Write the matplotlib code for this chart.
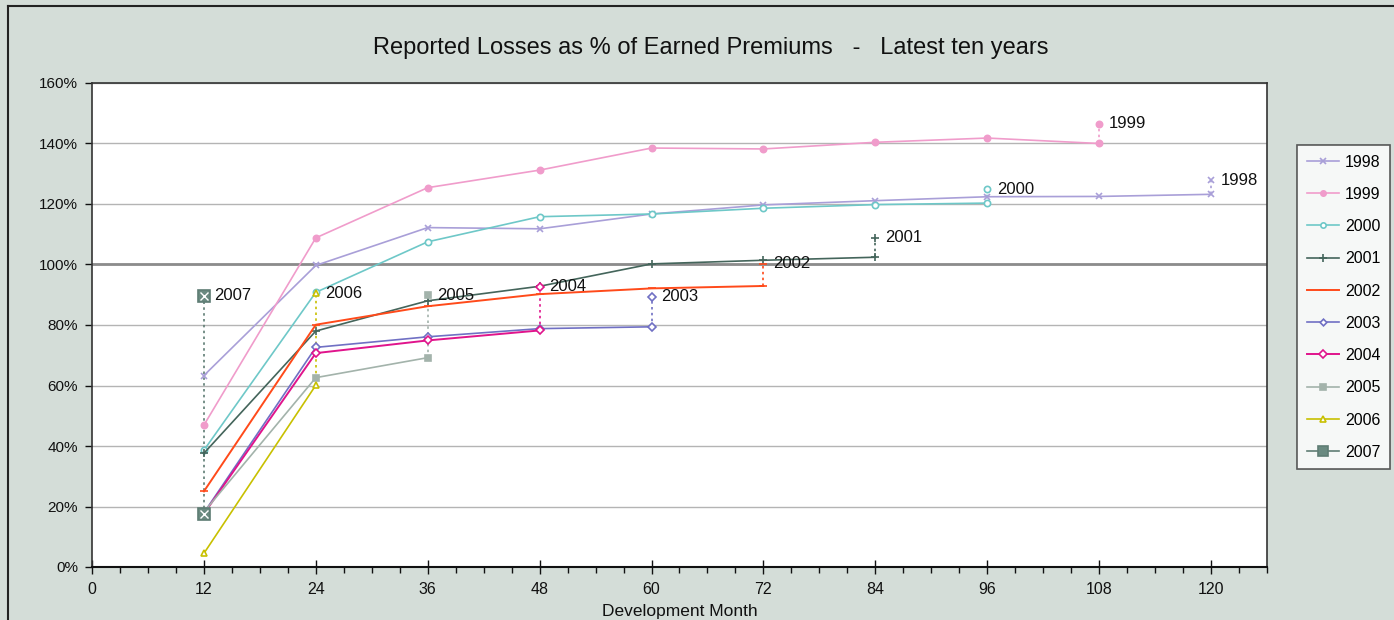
import matplotlib
matplotlib.use("Agg")
import matplotlib.pyplot as plt
from matplotlib.ticker import MultipleLocator, FuncFormatter

plt.rcParams['font.family'] = ['Liberation Sans', 'DejaVu Sans']

# Development months (x positions)
months = [12, 24, 36, 48, 60, 72, 84, 96, 108, 120]

# Reported losses as % of earned premiums, by accident year
years = ['1998', '1999', '2000', '2001', '2002', '2003', '2004', '2005', '2006', '2007']
s1998 = [63.3, 99.7, 112.2, 111.8, 116.7, 119.7, 121.1, 122.4, 122.5, 123.2]
s1999 = [46.9, 108.8, 125.4, 131.2, 138.5, 138.2, 140.4, 141.8, 140.0]
s2000 = [38.6, 90.8, 107.5, 115.8, 116.7, 118.6, 119.8, 120.3]
s2001 = [37.6, 78.0, 88.0, 92.8, 100.2, 101.4, 102.4]
s2002 = [25.0, 80.1, 86.2, 90.2, 92.1, 92.9]
s2003 = [17.9, 72.6, 76.1, 78.8, 79.4]
s2004 = [17.6, 70.7, 74.9, 78.2]
s2005 = [18.2, 62.6, 69.2]
s2006 = [4.5, 60.1]
s2007 = [17.5]
series = [s1998, s1999, s2000, s2001, s2002, s2003, s2004, s2005, s2006, s2007]

# Level of the year label above each series' latest point
label_levels = [127.9, 146.6, 124.8, 108.8, 100.3, 89.4, 92.7, 89.8, 90.5, 89.6]

colors = ['#a99fd8', '#f09ccb', '#6ec8c8', '#44655b', '#ff4a1a',
          '#7070c4', '#e0148c', '#a3b3ab', '#c8c000', '#5f7d74']
markers = ['x', 'o', 'o', '+', '_', 'D', 'D', 's', '^', 's']
marker_sizes = [5, 4.5, 4.5, 6, 6, 4, 4.5, 4.5, 5, 8]
filled = [True, True, False, True, True, False, False, True, False, True]
line_widths = [1.2, 1.2, 1.2, 1.2, 1.4, 1.2, 1.4, 1.2, 1.2, 1.2]

bg = '#d4ddd8'
fig = plt.figure(figsize=(13.94, 6.2), dpi=100, facecolor=bg)
ax = fig.add_axes([92 / 1394, 1 - 567 / 620, (1267 - 92) / 1394, (567 - 83) / 620])
ax.set_facecolor('white')

# frame around the chart area
fig.add_artist(plt.Line2D([8 / 1394, 8 / 1394], [0, 1 - 6 / 620],
                          transform=fig.transFigure, color='#222222', lw=1.5))
fig.add_artist(plt.Line2D([8 / 1394, 1], [1 - 6 / 620, 1 - 6 / 620],
                          transform=fig.transFigure, color='#222222', lw=1.5))

ax.set_xlim(0, 126)
ax.set_ylim(0, 160)
ax.yaxis.set_major_locator(MultipleLocator(20))
ax.yaxis.set_major_formatter(FuncFormatter(lambda v, p: f"{v:.0f}%"))
ax.xaxis.set_major_locator(MultipleLocator(12))
ax.xaxis.set_minor_locator(MultipleLocator(3))
ax.grid(axis='y', color='#b4b4b4', lw=1.0)
ax.set_axisbelow(True)
ax.axhline(100, color='#8c8c8c', lw=2.0, zorder=1.5)

for sp in ['top', 'right', 'left']:
    ax.spines[sp].set_color('#333333')
    ax.spines[sp].set_linewidth(1.2)
ax.spines['bottom'].set_color('#111111')
ax.spines['bottom'].set_linewidth(1.5)

ax.tick_params(axis='y', which='major', direction='out', length=5, width=1,
               labelsize=11, colors='#111111', pad=5)
ax.tick_params(axis='x', which='major', direction='inout', length=10, width=1,
               labelsize=11.5, colors='#111111', pad=6)
ax.tick_params(axis='x', which='minor', direction='out', length=4, width=1, colors='#111111')

handles = []
for i, (yr, vals) in enumerate(zip(years, series)):
    xs = months[:len(vals)]
    c = colors[i]
    mfc = c if filled[i] else 'white'
    if yr == '2007':
        mfc = '#6a8a80'
    h, = ax.plot(xs, vals, color=c, lw=line_widths[i], marker=markers[i],
                 ms=marker_sizes[i], mfc=mfc, mec=c, mew=1.2, label=yr, zorder=3)
    handles.append(h)
    if yr == '2007':
        ax.plot(xs, vals, ls='none', marker='x', ms=6, mec='white', mew=1.0, zorder=4)
    # dotted leader to the year label
    lx = xs[-1]
    ly = label_levels[i]
    ax.plot([lx, lx], [vals[-1], ly], color=c, lw=1.2, ls=(0, (1.5, 2)), zorder=2)
    ax.plot([lx], [ly], ls='none', marker=markers[i], ms=marker_sizes[i],
            mfc=mfc, mec=c, mew=1.2, zorder=4)
    if yr == '2007':
        ax.plot([lx], [ly], ls='none', marker='x', ms=6, mec='white', mew=1.0, zorder=5)
    ax.annotate(yr, (lx, ly), xytext=(7, 0), textcoords='offset points',
                fontsize=12, color='#111111', va='center', ha='left', zorder=6)

ax.set_xlabel('Development Month', fontsize=12.5, color='#111111', labelpad=5)
fig.text(711 / 1394, 1 - 48 / 620,
         'Reported Losses as % of Earned Premiums   -   Latest ten years',
         ha='center', va='center', fontsize=17, color='#111111')

leg = fig.legend(handles=handles, loc='upper left',
                 bbox_to_anchor=(1297 / 1394, 1 - 145 / 620),
                 fontsize=11.5, frameon=True, fancybox=False,
                 handlelength=2.0, handletextpad=0.4, labelspacing=1.08,
                 borderpad=0.6, borderaxespad=0, markerscale=0.85)
leg.get_frame().set_edgecolor('#333333')
leg.get_frame().set_linewidth(1.2)
leg.get_frame().set_facecolor('white')

fig.savefig('out.png', dpi=100, facecolor=bg)
